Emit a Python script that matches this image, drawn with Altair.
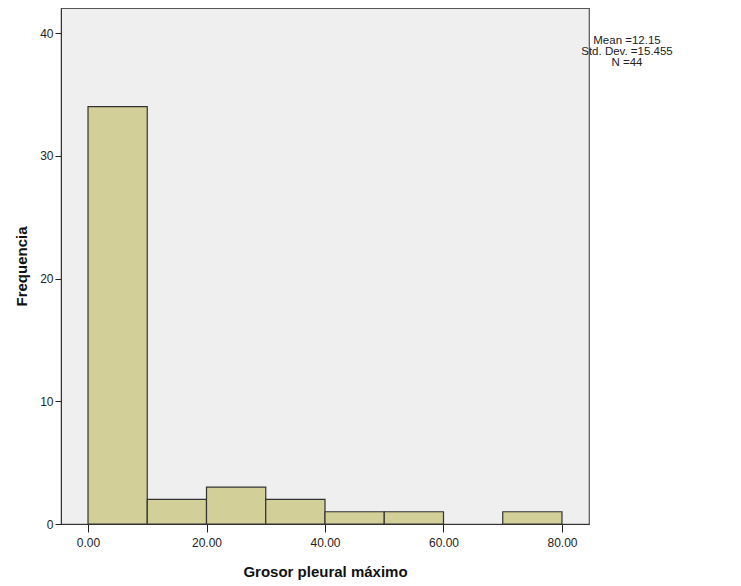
import altair as alt
import pandas as pd

bin_start = [0, 10, 20, 30, 40, 50, 70]
bin_end = [10, 20, 30, 40, 50, 60, 80]
counts = [34, 2, 3, 2, 1, 1, 1]
stats_lines = ["Mean =12.15", "Std. Dev. =15.455", "N =44"]

df = pd.DataFrame({"start": bin_start, "end": bin_end, "count": counts})
ann = pd.DataFrame({"label": ["\n".join(stats_lines)]})

FONT = "Liberation Sans"

xscale = alt.Scale(domain=[-4.56, 84.56], nice=False, zero=False)
yscale = alt.Scale(domain=[0, 42.04], nice=False)

bars = alt.Chart(df).mark_bar(
    fill="#d3cf98", stroke="#333333", strokeWidth=1.2, opacity=1
).encode(
    x=alt.X("start:Q", scale=xscale,
            axis=alt.Axis(values=[0, 20, 40, 60, 80], format=".2f",
                          title="Grosor pleural máximo", grid=False,
                          tickSize=8, tickColor="#222222", domainColor="#333333",
                          labelFont=FONT, labelFontSize=12, labelColor="#222222",
                          labelPadding=5, titleFont=FONT, titleFontSize=15,
                          titleFontWeight="bold", titleColor="#111111",
                          titlePadding=16)),
    x2="end:Q",
    y=alt.Y("count:Q", scale=yscale,
            axis=alt.Axis(values=[0, 10, 20, 30, 40], title="Frequencia",
                          grid=False, tickSize=6, tickColor="#222222",
                          domainColor="#333333", labelFont=FONT,
                          labelFontSize=12, labelColor="#222222", labelPadding=2,
                          titleFont=FONT, titleFontSize=15, titleFontWeight="bold",
                          titleColor="#111111", titlePadding=10)),
    y2=alt.datum(0),
)

text = alt.Chart(ann).mark_text(
    font=FONT, fontSize=11.5, color="#222222", align="center", baseline="top",
    lineBreak="\n", lineHeight=11, clip=False
).encode(
    x=alt.value(566),
    y=alt.value(27),
    text="label:N",
)

chart = alt.layer(bars, text).properties(
    width=528, height=516,
    autosize=alt.AutoSizeParams(type="none"),
    padding={"left": 53, "top": 0, "right": 144, "bottom": 62},
    background="white",
).configure_view(
    fill="#efefef", stroke="#555555", strokeWidth=1.2
)

chart.save("out.html", embed_options={"renderer": "svg", "actions": False})
